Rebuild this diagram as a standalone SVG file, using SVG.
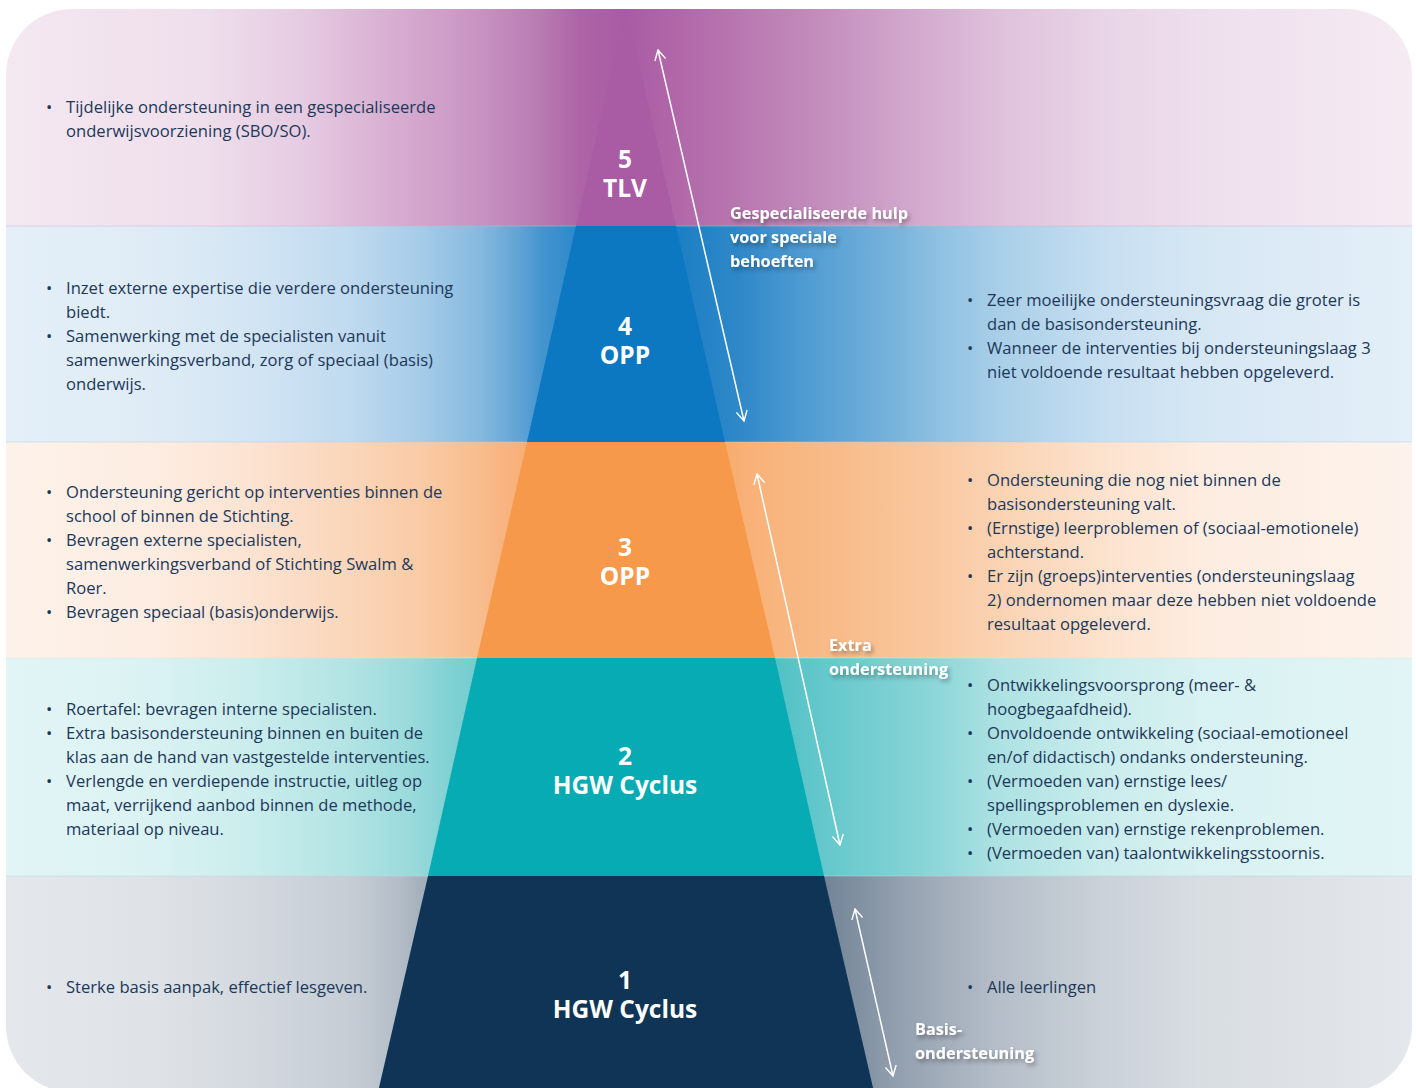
<svg xmlns="http://www.w3.org/2000/svg" width="1416" height="1088" viewBox="0 0 1416 1088">
<style>
.t{font-family:"Open Sans","Noto Sans","Liberation Sans",sans-serif;font-size:16.6px;fill:#1c3859}
.c{font-family:"Open Sans","Noto Sans","Liberation Sans",sans-serif;font-weight:700;font-size:24.5px;fill:#fff;text-anchor:middle}
.a{font-family:"Open Sans","Noto Sans","Liberation Sans",sans-serif;font-weight:700;font-size:16.3px;fill:#fff}
.ar{fill:none;stroke:#fff;stroke-width:1.5}
</style>
<defs>
<clipPath id="card"><rect x="6" y="9" width="1406" height="1083" rx="66" ry="66"/></clipPath>
<filter id="sh" x="-10%" y="-30%" width="130%" height="180%"><feDropShadow dx="2" dy="3" stdDeviation="2" flood-color="#000" flood-opacity="0.35"/></filter>
<marker id="ah" viewBox="0 0 12 12" refX="11" refY="6" markerWidth="12" markerHeight="12" markerUnits="userSpaceOnUse" orient="auto-start-reverse"><path d="M1,0.5 L11,6 L1,11.5" fill="none" stroke="#fff" stroke-width="1.4"/></marker>
<linearGradient id="g5" gradientUnits="userSpaceOnUse" x1="6" y1="0" x2="1412" y2="0">
<stop offset="0" stop-color="#f4e8f1"/><stop offset="0.138" stop-color="#efdfec"/><stop offset="0.209" stop-color="#e6cce2"/><stop offset="0.28" stop-color="#d6acd0"/><stop offset="0.337" stop-color="#c893c2"/><stop offset="0.38" stop-color="#b87bb1"/><stop offset="0.408" stop-color="#ad64a6"/><stop offset="0.44" stop-color="#a95ba3"/><stop offset="0.494" stop-color="#b46dab"/><stop offset="0.565" stop-color="#c088b9"/><stop offset="0.636" stop-color="#d0a5cb"/><stop offset="0.707" stop-color="#dfc1dc"/><stop offset="0.778" stop-color="#e8d4e6"/><stop offset="0.849" stop-color="#eedfed"/><stop offset="1" stop-color="#f5ebf3"/>
</linearGradient>
<linearGradient id="g4" gradientUnits="userSpaceOnUse" x1="6" y1="0" x2="1412" y2="0">
<stop offset="0" stop-color="#e4eff8"/><stop offset="0.102" stop-color="#dfecf6"/><stop offset="0.1735" stop-color="#d3e5f3"/><stop offset="0.245" stop-color="#c0daef"/><stop offset="0.294" stop-color="#a7cce8"/><stop offset="0.337" stop-color="#86b9df"/><stop offset="0.366" stop-color="#5fa3d5"/><stop offset="0.38" stop-color="#4695cf"/><stop offset="0.44" stop-color="#0b78c1"/><stop offset="0.522" stop-color="#2f88c8"/><stop offset="0.565" stop-color="#4d9ad1"/><stop offset="0.636" stop-color="#7bb5dc"/><stop offset="0.664" stop-color="#8fc1e2"/><stop offset="0.707" stop-color="#a9cfe8"/><stop offset="0.778" stop-color="#c6def0"/><stop offset="0.849" stop-color="#d6e7f4"/><stop offset="1" stop-color="#e4eff8"/>
</linearGradient>
<linearGradient id="g3" gradientUnits="userSpaceOnUse" x1="6" y1="0" x2="1412" y2="0">
<stop offset="0" stop-color="#fdf2ea"/><stop offset="0.102" stop-color="#fdede2"/><stop offset="0.1735" stop-color="#fce3d2"/><stop offset="0.245" stop-color="#fad6ba"/><stop offset="0.294" stop-color="#f9cba6"/><stop offset="0.337" stop-color="#f8bd8e"/><stop offset="0.351" stop-color="#f8b583"/><stop offset="0.44" stop-color="#f6994a"/><stop offset="0.536" stop-color="#f8b37b"/><stop offset="0.6" stop-color="#f8bd8c"/><stop offset="0.664" stop-color="#f9c9a2"/><stop offset="0.707" stop-color="#fad3b3"/><stop offset="0.778" stop-color="#fce2cd"/><stop offset="0.849" stop-color="#fdece0"/><stop offset="1" stop-color="#fdf3ec"/>
</linearGradient>
<linearGradient id="g2" gradientUnits="userSpaceOnUse" x1="6" y1="0" x2="1412" y2="0">
<stop offset="0" stop-color="#e2f5f6"/><stop offset="0.102" stop-color="#dbf2f3"/><stop offset="0.1735" stop-color="#cbeded"/><stop offset="0.245" stop-color="#b2e3e3"/><stop offset="0.294" stop-color="#96d9da"/><stop offset="0.316" stop-color="#80d1d3"/><stop offset="0.337" stop-color="#72cccf"/><stop offset="0.44" stop-color="#06abb3"/><stop offset="0.565" stop-color="#5cc5c9"/><stop offset="0.636" stop-color="#7fd1d3"/><stop offset="0.664" stop-color="#8fd7d9"/><stop offset="0.707" stop-color="#aee2e3"/><stop offset="0.778" stop-color="#c9ecec"/><stop offset="0.849" stop-color="#d8f1f2"/><stop offset="1" stop-color="#e2f5f6"/>
</linearGradient>
<linearGradient id="g1" gradientUnits="userSpaceOnUse" x1="6" y1="0" x2="1412" y2="0">
<stop offset="0" stop-color="#e4e7eb"/><stop offset="0.102" stop-color="#dfe3e7"/><stop offset="0.1735" stop-color="#d4d9df"/><stop offset="0.245" stop-color="#c6cdd5"/><stop offset="0.28" stop-color="#b4bdc7"/><stop offset="0.294" stop-color="#a6b1bc"/><stop offset="0.316" stop-color="#95a2b0"/><stop offset="0.44" stop-color="#0f3455"/><stop offset="0.595" stop-color="#7a8b9c"/><stop offset="0.636" stop-color="#93a0af"/><stop offset="0.664" stop-color="#a2adba"/><stop offset="0.707" stop-color="#b5bec9"/><stop offset="0.778" stop-color="#cad1d8"/><stop offset="0.849" stop-color="#d8dde2"/><stop offset="1" stop-color="#e4e7eb"/>
</linearGradient>
</defs>

<g id="background" clip-path="url(#card)">
<rect x="0" y="0" width="1416" height="226" fill="url(#g5)"/>
<rect x="0" y="226" width="1416" height="216" fill="url(#g4)"/>
<rect x="0" y="442" width="1416" height="216" fill="url(#g3)"/>
<rect x="0" y="658" width="1416" height="218" fill="url(#g2)"/>
<rect x="0" y="876" width="1416" height="220" fill="url(#g1)"/>
<g stroke-width="1" opacity="0.5">
<line x1="0" y1="226" x2="1416" y2="226" stroke="#c4b4da"/>
<line x1="0" y1="442" x2="1416" y2="442" stroke="#b9cfe2"/>
<line x1="0" y1="658" x2="1416" y2="658" stroke="#d9e6e2"/>
<line x1="0" y1="876" x2="1416" y2="876" stroke="#b7d8dc"/>
</g>
</g>

<g id="level5">
<polygon points="626,8 676,226 576,226" fill="#a95ba3" clip-path="url(#card)"/>
<text class="c" x="625" y="168">5<tspan x="625" dy="29">TLV</tspan></text>
</g>
<g id="level4">
<polygon points="576,226 676,226 725,442 527,442" fill="#0b78c1"/>
<text class="c" x="625" y="335">4<tspan x="625" dy="29">OPP</tspan></text>
</g>
<g id="level3">
<polygon points="527,442 725,442 775,658 477,658" fill="#f6994a"/>
<text class="c" x="625" y="556">3<tspan x="625" dy="29">OPP</tspan></text>
</g>
<g id="level2">
<polygon points="477,658 775,658 824,876 428,876" fill="#06abb3"/>
<text class="c" x="625" y="765">2<tspan x="625" dy="29">HGW Cyclus</tspan></text>
</g>
<g id="level1">
<polygon points="428,876 824,876 874,1092 378,1092" fill="#0f3455"/>
<text class="c" x="625" y="989">1<tspan x="625" dy="29">HGW Cyclus</tspan></text>
</g>

<g id="left5">
<text class="t" x="46" y="113">•</text>
<text class="t" x="66" y="113">Tijdelijke ondersteuning in een gespecialiseerde</text>
<text class="t" x="66" y="137">onderwijsvoorziening (SBO/SO).</text>
</g>
<g id="left4">
<text class="t" x="46" y="294">•</text>
<text class="t" x="66" y="294">Inzet externe expertise die verdere ondersteuning</text>
<text class="t" x="66" y="318">biedt.</text>
<text class="t" x="46" y="342">•</text>
<text class="t" x="66" y="342">Samenwerking met de specialisten vanuit</text>
<text class="t" x="66" y="366">samenwerkingsverband, zorg of speciaal (basis)</text>
<text class="t" x="66" y="390">onderwijs.</text>
</g>
<g id="left3">
<text class="t" x="46" y="498">•</text>
<text class="t" x="66" y="498">Ondersteuning gericht op interventies binnen de</text>
<text class="t" x="66" y="522">school of binnen de Stichting.</text>
<text class="t" x="46" y="546">•</text>
<text class="t" x="66" y="546">Bevragen externe specialisten,</text>
<text class="t" x="66" y="570">samenwerkingsverband of Stichting Swalm &amp;</text>
<text class="t" x="66" y="594">Roer.</text>
<text class="t" x="46" y="618">•</text>
<text class="t" x="66" y="618">Bevragen speciaal (basis)onderwijs.</text>
</g>
<g id="left2">
<text class="t" x="46" y="715">•</text>
<text class="t" x="66" y="715">Roertafel: bevragen interne specialisten.</text>
<text class="t" x="46" y="739">•</text>
<text class="t" x="66" y="739">Extra basisondersteuning binnen en buiten de</text>
<text class="t" x="66" y="763">klas aan de hand van vastgestelde interventies.</text>
<text class="t" x="46" y="787">•</text>
<text class="t" x="66" y="787">Verlengde en verdiepende instructie, uitleg op</text>
<text class="t" x="66" y="811">maat, verrijkend aanbod binnen de methode,</text>
<text class="t" x="66" y="835">materiaal op niveau.</text>
</g>
<g id="left1">
<text class="t" x="46" y="993">•</text>
<text class="t" x="66" y="993">Sterke basis aanpak, effectief lesgeven.</text>
</g>

<g id="right4">
<text class="t" x="967" y="306">•</text>
<text class="t" x="987" y="306">Zeer moeilijke ondersteuningsvraag die groter is</text>
<text class="t" x="987" y="330">dan de basisondersteuning.</text>
<text class="t" x="967" y="354">•</text>
<text class="t" x="987" y="354">Wanneer de interventies bij ondersteuningslaag 3</text>
<text class="t" x="987" y="378">niet voldoende resultaat hebben opgeleverd.</text>
</g>
<g id="right3">
<text class="t" x="967" y="486">•</text>
<text class="t" x="987" y="486">Ondersteuning die nog niet binnen de</text>
<text class="t" x="987" y="510">basisondersteuning valt.</text>
<text class="t" x="967" y="534">•</text>
<text class="t" x="987" y="534">(Ernstige) leerproblemen of (sociaal-emotionele)</text>
<text class="t" x="987" y="558">achterstand.</text>
<text class="t" x="967" y="582">•</text>
<text class="t" x="987" y="582">Er zijn (groeps)interventies (ondersteuningslaag</text>
<text class="t" x="987" y="606">2) ondernomen maar deze hebben niet voldoende</text>
<text class="t" x="987" y="630">resultaat opgeleverd.</text>
</g>
<g id="right2">
<text class="t" x="967" y="691">•</text>
<text class="t" x="987" y="691">Ontwikkelingsvoorsprong (meer- &amp;</text>
<text class="t" x="987" y="715">hoogbegaafdheid).</text>
<text class="t" x="967" y="739">•</text>
<text class="t" x="987" y="739">Onvoldoende ontwikkeling (sociaal-emotioneel</text>
<text class="t" x="987" y="763">en/of didactisch) ondanks ondersteuning.</text>
<text class="t" x="967" y="787">•</text>
<text class="t" x="987" y="787">(Vermoeden van) ernstige lees/</text>
<text class="t" x="987" y="811">spellingsproblemen en dyslexie.</text>
<text class="t" x="967" y="835">•</text>
<text class="t" x="987" y="835">(Vermoeden van) ernstige rekenproblemen.</text>
<text class="t" x="967" y="859">•</text>
<text class="t" x="987" y="859">(Vermoeden van) taalontwikkelingsstoornis.</text>
</g>
<g id="right1">
<text class="t" x="967" y="993">•</text>
<text class="t" x="987" y="993">Alle leerlingen</text>
</g>

<g id="connectors">
<line class="ar" x1="658" y1="50" x2="744" y2="421" marker-start="url(#ah)" marker-end="url(#ah)"/>
<line class="ar" x1="757" y1="474" x2="840" y2="845" marker-start="url(#ah)" marker-end="url(#ah)"/>
<line class="ar" x1="855" y1="909" x2="893" y2="1076" marker-start="url(#ah)" marker-end="url(#ah)"/>
</g>

<g id="labels" filter="url(#sh)">
<text class="a" x="730" y="219">Gespecialiseerde hulp</text>
<text class="a" x="730" y="243">voor speciale</text>
<text class="a" x="730" y="267">behoeften</text>
<text class="a" x="829" y="651">Extra</text>
<text class="a" x="829" y="675">ondersteuning</text>
<text class="a" x="915" y="1035">Basis-</text>
<text class="a" x="915" y="1059">ondersteuning</text>
</g>
</svg>
